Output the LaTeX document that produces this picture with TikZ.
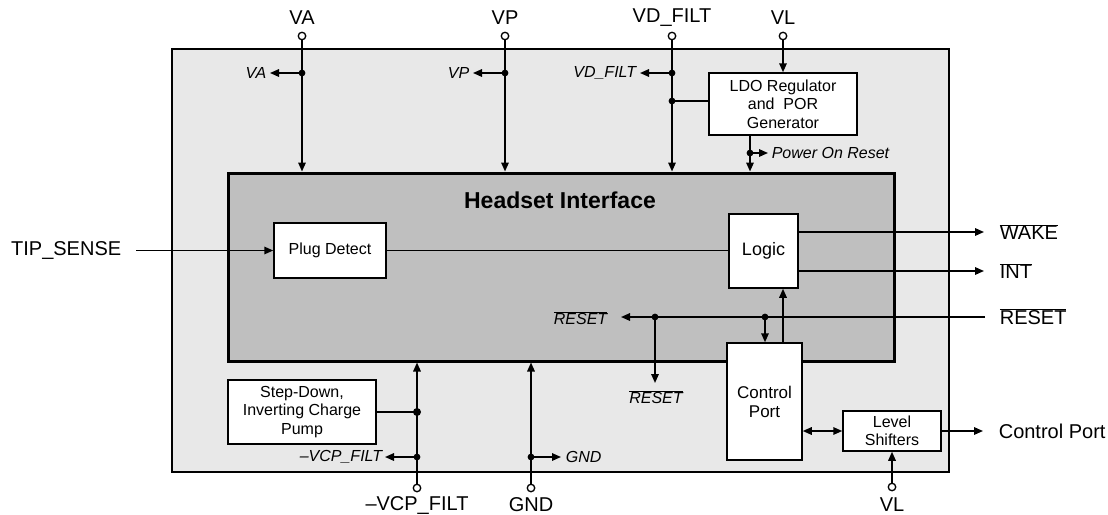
\documentclass[tikz,border=0pt]{standalone}
\usepackage{fontspec}
\setmainfont{Liberation Sans}
\usetikzlibrary{arrows.meta}
\newcommand{\ovlbar}[1]{$\overline{\mbox{#1}}$}
\begin{document}
\begin{tikzpicture}[x=1pt,y=-1pt, line width=1.6pt,
  >={Triangle[length=9pt,width=7.5pt]},
  box/.style={draw, fill=white, line width=1.5pt, inner sep=0pt, align=center, font=\fontsize{16}{18.3}\selectfont},
  big/.style={font=\fontsize{20}{24}\selectfont, inner sep=0pt},
  sml/.style={font=\fontsize{16}{18}\selectfont\itshape, inner sep=0pt},
  pinc/.style={circle, draw, fill=white, line width=1.3pt, minimum size=7.5pt, inner sep=0pt},
]
\useasboundingbox (0,0) rectangle (1108,514);
% outer chip and headset interface
\node[draw, fill=black!9, line width=2.5pt, minimum width=777pt, minimum height=423pt, inner sep=0pt] (chip) at (560.5,260.5) {};
\node[draw, fill=black!25, line width=3pt, minimum width=666pt, minimum height=188pt, inner sep=0pt] (hs) at (561,267) {};
\node[font=\fontsize{23}{26}\selectfont\bfseries, inner sep=0pt] (title) at (560,200) {Headset Interface};

% blocks
\node[box, minimum width=112pt, minimum height=55pt] (plug) at (330,250.5) {Plug Detect};
\node[box, minimum width=69pt, minimum height=74pt, font=\fontsize{18}{20}\selectfont] (logic) at (763.5,251) {Logic};
\node[box, minimum width=75pt, minimum height=117pt, font=\fontsize{17}{19}\selectfont] (cport) at (764.5,401.5) {Control\\Port};
\node[box, minimum width=98pt, minimum height=40pt] (lshift) at (892,431) {Level\\Shifters};
\node[box, minimum width=148pt, minimum height=62pt] (ldo) at (783,104) {LDO Regulator\\and~ POR\\Generator};
\node[box, minimum width=148pt, minimum height=64pt] (cpump) at (302,412) {Step-Down,\\Inverting Charge\\Pump};

% top pins
\node[pinc] (pVA) at (302,36) {};
\node[pinc] (pVP) at (505,36) {};
\node[pinc] (pVD) at (672,36) {};
\node[pinc] (pVL) at (783,36) {};
\node[big] (lVA) at (302,18) {VA};
\node[big] (lVP) at (505,18) {VP};
\node[big] (lVD) at (672,18) {VD\_FILT};
\node[big] (lVL) at (783,18) {VL};

% bottom pins
\node[pinc] (pVCP) at (417,488) {};
\node[pinc] (pGND) at (531,488) {};
\node[pinc] (pVL2) at (892,487) {};
\node[big] (lVCP) at (417,505) {–VCP\_FILT};
\node[big] (lGND) at (531,505) {GND};
\node[big] (lVL2) at (892,505) {VL};

% VA
\coordinate (dVA) at (302,73);
\coordinate (aVA) at (270,73);
\draw[->] (pVA) -- (pVA |- hs.north);
\draw[->] (dVA) -- (aVA);
\fill (dVA) circle (3.4);
\node[sml, anchor=east] (tVA) at (267,73) {VA};
% VP
\coordinate (dVP) at (505,73);
\coordinate (aVP) at (473,73);
\draw[->] (pVP) -- (pVP |- hs.north);
\draw[->] (dVP) -- (aVP);
\fill (dVP) circle (3.4);
\node[sml, anchor=east] (tVP) at (470,73) {VP};
% VD_FILT
\coordinate (dVD) at (672,73);
\coordinate (dVD2) at (672,101);
\coordinate (aVD) at (640,73);
\draw[->] (pVD) -- (pVD |- hs.north);
\draw[->] (dVD) -- (aVD);
\draw (dVD2) -- (dVD2 -| ldo.west);
\fill (dVD) circle (3.4);
\fill (dVD2) circle (3.4);
\node[sml, anchor=east] (tVD) at (637,73) {VD\_FILT};
% VL to LDO
\draw[->] (pVL) -- (ldo.north);
% Power on reset
\coordinate (porTop) at (750,135);
\coordinate (dPOR) at (750,153);
\coordinate (aPOR) at (768,153);
\draw[->] (porTop) -- (porTop |- hs.north);
\draw[->] (dPOR) -- (aPOR);
\fill (dPOR) circle (3.4);
\node[sml, anchor=west] (tPOR) at (771,153) {Power On Reset};

% TIP_SENSE
\coordinate (tipIn) at (136,250.5);
\node[big, anchor=east] (tTIP) at (122,250.5) {TIP\_SENSE};
\draw[->] (tipIn) -- (plug.west);
\draw (plug.east) -- (plug.east -| logic.west);

% outputs of logic
\coordinate (oWAKE) at (984,232);
\coordinate (oINT) at (984,271);
\draw[->] (oWAKE -| logic.east) -- (oWAKE);
\draw[->] (oINT -| logic.east) -- (oINT);
\node[big, anchor=west] (tWAKE) at (999,232) {\ovlbar{WAKE}};
\node[big, anchor=west] (tINT) at (999,271) {\ovlbar{INT}};

% RESET
\coordinate (rIn) at (985,317);
\coordinate (rEnd) at (621,317);
\coordinate (dR1) at (655,317);
\coordinate (dR2) at (765,317);
\coordinate (rDown) at (655,383);
\node[big, anchor=west] (tRESET) at (999,317) {\ovlbar{RESET}};
\draw[->] (rIn) -- (rEnd);
\draw[->] (dR1) -- (rDown);
\draw[->] (dR2) -- (dR2 |- cport.north);
\fill (dR1) circle (3.4);
\fill (dR2) circle (3.4);
\node[sml, anchor=east] (tR1) at (608,318) {\ovlbar{\itshape RESET}};
\node[sml] (tR2) at (656,397) {\ovlbar{\itshape RESET}};
% control port to logic
\draw[->] ([xshift=18.5pt]cport.north) -- ([xshift=19.5pt]logic.south);
% control port <-> level shifters
\draw[<->] (lshift.west -| cport.east) -- (lshift.west);
\coordinate (oCP) at (983,431);
\draw[->] (lshift.east) -- (oCP);
\node[big, anchor=west] (tCP) at (998,431) {Control Port};
\draw[->] (pVL2) -- (lshift.south);

% VCP_FILT
\coordinate (dVCP1) at (417,412);
\coordinate (dVCP2) at (417,457);
\coordinate (aVCP) at (385,457);
\draw[->] (pVCP) -- (pVCP |- hs.south);
\draw (cpump.east) -- (dVCP1);
\draw[->] (dVCP2) -- (aVCP);
\fill (dVCP1) circle (4);
\fill (dVCP2) circle (3.4);
\node[sml, anchor=east] (tVCP) at (383,457) {–VCP\_FILT};
% GND
\coordinate (dGND) at (531,457);
\coordinate (aGND) at (561,457);
\draw[->] (pGND) -- (pGND |- hs.south);
\draw[->] (dGND) -- (aGND);
\fill (dGND) circle (3.4);
\node[sml, anchor=west] (tGND) at (565,457) {GND};
\end{tikzpicture}
\end{document}
